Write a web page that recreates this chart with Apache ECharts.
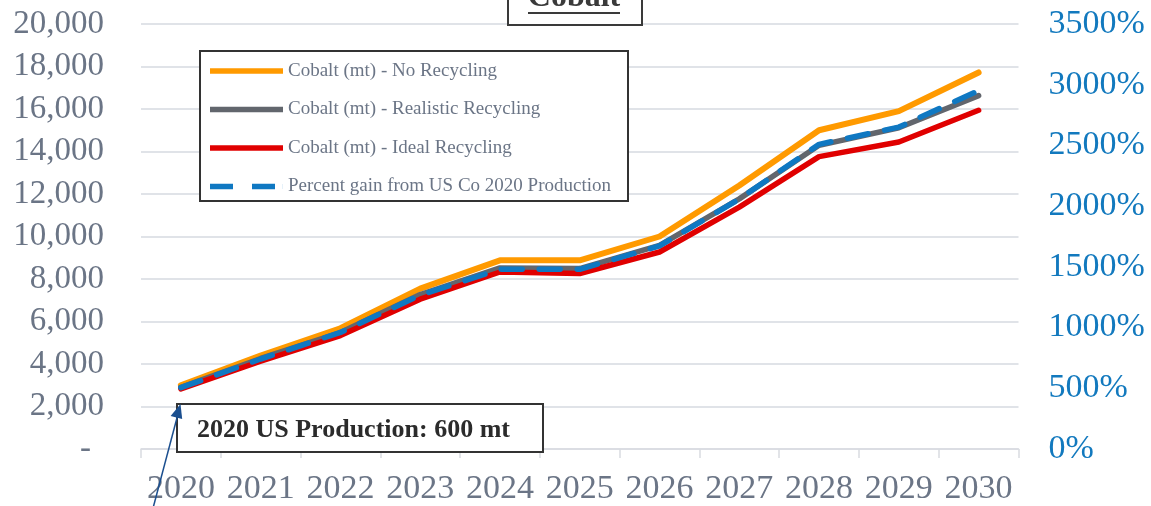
<!DOCTYPE html>
<html lang="en">
<head>
    <meta charset="UTF-8">
    <title>Cobalt</title>
    <script src="https://cdn.jsdelivr.net/npm/echarts@6/dist/echarts.min.js"></script>
    <style>
        html, body { margin: 0; padding: 0; background: #fff; }
        #container { width: 1151px; height: 506px; }
    </style>
</head>
<body>
<div id="container"></div>
<script type="text/javascript">
    // 数据
    const years = ['2020', '2021', '2022', '2023', '2024', '2025', '2026', '2027', '2028', '2029', '2030'];
    const noRecycling = [3000, 4400, 5680, 7550, 8880, 8880, 10000, 12400, 15000, 15900, 17720];
    const realisticRecycling = [2900, 4260, 5480, 7270, 8520, 8490, 9580, 11770, 14290, 15120, 16630];
    const idealRecycling = [2830, 4130, 5340, 7050, 8330, 8260, 9270, 11380, 13760, 14450, 15940];
    const percentGain = [505, 741, 960, 1267, 1480, 1480, 1672, 2059, 2509, 2651, 2951];
    const seriesNames = [
        'Cobalt (mt) - No Recycling',
        'Cobalt (mt) - Realistic Recycling',
        'Cobalt (mt) - Ideal Recycling',
        'Percent gain from US Co 2020 Production'
    ];
    const titleText = 'Cobalt';
    const noteText = '2020 US Production: 600 mt';

    const serif = '"Liberation Serif", "DejaVu Serif", serif';
    const grayText = '#6b7586';
    const blueText = '#1279be';

    // 图例图标：实线 / 虚线
    const solidIcon = 'path://M0,0H73V5H0Z';
    const dashIcon = 'path://M0,0H23V5H0ZM42,0H65V5H42ZM72.9,0H73V5H72.9Z';

    let myChart = echarts.init(document.getElementById('container'));

    let option = {
        animation: false,
        color: ['#ff9a00', '#62666d', '#e00000', '#0f78c2'],
        grid: {
            left: 141,
            right: 132.5,
            top: 24,
            bottom: 54.5
        },
        legend: {
            orient: 'vertical',
            left: 210,
            top: 61.5,
            padding: 0,
            itemWidth: 73,
            itemHeight: 5.5,
            itemGap: 19.5,
            symbolKeepAspect: false,
            z: 10,
            data: [
                { name: seriesNames[0], icon: solidIcon },
                { name: seriesNames[1], icon: solidIcon },
                { name: seriesNames[2], icon: solidIcon },
                { name: seriesNames[3], icon: dashIcon }
            ],
            textStyle: {
                fontFamily: serif,
                fontSize: 19,
                color: grayText,
                lineHeight: 18
            }
        },
        xAxis: {
            type: 'category',
            data: years,
            boundaryGap: true,
            axisLine: { lineStyle: { color: '#d9dce1', width: 1.5 } },
            axisTick: { show: true, interval: 0, length: 9, lineStyle: { color: '#d9dce1', width: 1.5 } },
            axisLabel: {
                interval: 0,
                margin: 23,
                fontFamily: serif,
                fontSize: 34,
                color: grayText
            }
        },
        yAxis: [
            {
                type: 'value',
                min: 0,
                max: 20000,
                interval: 2000,
                axisLine: { show: false },
                axisTick: { show: false },
                splitLine: { lineStyle: { color: '#e0e3e8', width: 2 } },
                axisLabel: {
                    margin: 37,
                    fontFamily: serif,
                    fontSize: 33,
                    color: grayText,
                    formatter: function (v) {
                        if (v === 0) return '{z|-}';
                        return v.toLocaleString('en-US');
                    },
                    rich: {
                        z: {
                            fontFamily: serif,
                            fontSize: 33,
                            color: grayText,
                            padding: [0, 13, 0, 0]
                        }
                    }
                }
            },
            {
                type: 'value',
                min: 0,
                max: 3500,
                interval: 500,
                position: 'right',
                axisLine: { show: false },
                axisTick: { show: false },
                splitLine: { show: false },
                axisLabel: {
                    margin: 30,
                    fontFamily: serif,
                    fontSize: 34,
                    color: blueText,
                    formatter: function (v) {
                        return v + '%';
                    }
                }
            }
        ],
        series: [
            {
                name: seriesNames[0],
                type: 'line',
                data: noRecycling,
                symbol: 'none',
                lineStyle: { width: 6, cap: 'round', join: 'round' }
            },
            {
                name: seriesNames[1],
                type: 'line',
                data: realisticRecycling,
                symbol: 'none',
                lineStyle: { width: 5.5, cap: 'round', join: 'round' }
            },
            {
                name: seriesNames[2],
                type: 'line',
                data: idealRecycling,
                symbol: 'none',
                lineStyle: { width: 5.5, cap: 'round', join: 'round' }
            },
            {
                name: seriesNames[3],
                type: 'line',
                yAxisIndex: 1,
                data: percentGain,
                symbol: 'none',
                lineStyle: { width: 5.5, type: [21, 17], cap: 'round', join: 'round' }
            }
        ],
        graphic: {
            elements: [
                // 标题框
                {
                    type: 'rect',
                    z: 5,
                    shape: { x: 508, y: -20, width: 134, height: 45 },
                    style: { fill: '#fff', stroke: '#3a3a3a', lineWidth: 2 }
                },
                {
                    type: 'text',
                    z: 6,
                    x: 574,
                    y: -2,
                    style: {
                        text: titleText,
                        font: 'bold 32px ' + serif,
                        fill: '#3a3a3a',
                        align: 'center',
                        verticalAlign: 'middle'
                    }
                },
                {
                    type: 'line',
                    z: 6,
                    shape: { x1: 528, y1: 13, x2: 620, y2: 13 },
                    style: { stroke: '#3a3a3a', lineWidth: 2.2 }
                },
                // 图例框
                {
                    type: 'rect',
                    z: 5,
                    shape: { x: 200, y: 51, width: 428, height: 150 },
                    style: { fill: '#fff', stroke: '#333', lineWidth: 2 }
                },
                // 注释框
                {
                    type: 'rect',
                    z: 5,
                    shape: { x: 177, y: 404, width: 366, height: 48 },
                    style: { fill: '#fff', stroke: '#333', lineWidth: 2 }
                },
                {
                    type: 'text',
                    z: 6,
                    x: 197,
                    y: 430,
                    style: {
                        text: noteText,
                        font: 'bold 26px ' + serif,
                        fill: '#2b2b2b',
                        align: 'left',
                        verticalAlign: 'middle'
                    }
                },
                // 箭头
                {
                    type: 'line',
                    z: 7,
                    shape: { x1: 152, y1: 512, x2: 178, y2: 414 },
                    style: { stroke: '#1b4f8f', lineWidth: 1.5 }
                },
                {
                    type: 'polygon',
                    z: 7,
                    shape: { points: [[180.5, 404], [182.2, 419], [170.6, 416]] },
                    style: { fill: '#1b4f8f' }
                }
            ]
        }
    };

    myChart.setOption(option, true);
</script>
</body>
</html>
